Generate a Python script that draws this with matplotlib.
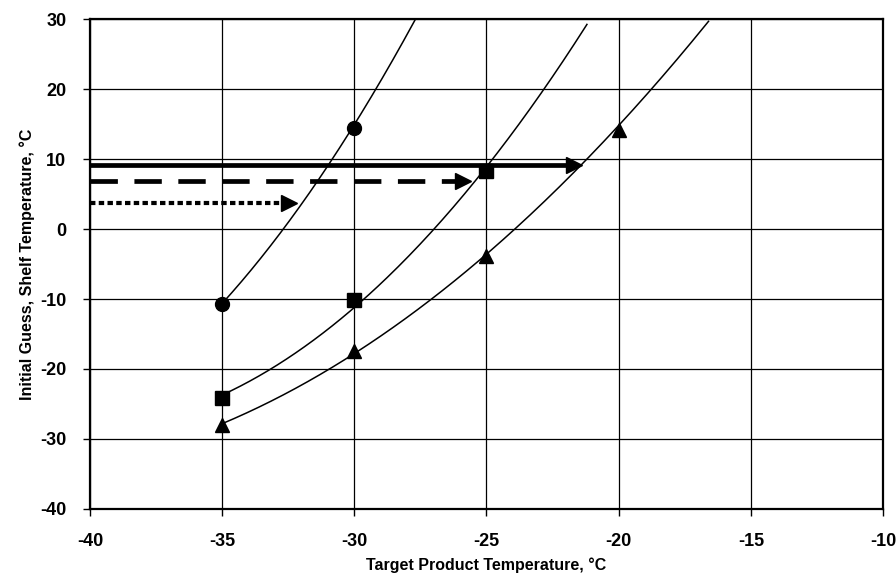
import matplotlib.pyplot as plt
import numpy as np

plt.rcParams['font.family'] = ['Liberation Sans', 'DejaVu Sans']
plt.rcParams['axes.unicode_minus'] = False

# marker data
x_circ = [-35, -30]
y_circ = [-10.7, 14.4]
x_sq = [-35, -30, -25]
y_sq = [-24.1, -10.2, 8.3]
x_tri = [-35, -30, -25, -20]
y_tri = [-28.0, -17.4, -3.8, 14.2]

# points on the trend curves (markers plus where each curve meets the top edge)
curve_circ_x = [-35, -32.7, -30.9, -30, -27.7]
curve_circ_y = [-10.7, 0, 10, 14.4, 30]
curve_sq_x = [-35, -30, -27.1, -25, -24.5, -21.2]
curve_sq_y = [-24.1, -10.2, 0, 8.3, 10, 30]
curve_tri_x = [-35, -30, -25, -24.0, -21.2, -20, -16.6]
curve_tri_y = [-28.0, -17.4, -3.8, 0, 10, 14.2, 30]

# horizontal arrows: level and tip position
arrow_y = [9.1, 6.8, 3.7]
arrow_tip = [-21.4, -25.6, -32.2]
arrow_style = ['solid', 'dashed', 'dotted']

fig = plt.figure(figsize=(8.96, 5.87), dpi=100)
ax = fig.add_axes([0.1004, 0.1329, 0.8851, 0.8347])

for cx, cy in [(curve_circ_x, curve_circ_y), (curve_sq_x, curve_sq_y),
               (curve_tri_x, curve_tri_y)]:
    p = np.polyfit(cx, cy, 2)
    xs = np.linspace(cx[0], cx[-1], 200)
    ax.plot(xs, np.polyval(p, xs), color='black', lw=1.1, zorder=3)

ax.plot(x_circ, y_circ, 'o', color='black', ms=10, zorder=4)
ax.plot(x_sq, y_sq, 's', color='black', ms=10, zorder=4)
ax.plot(x_tri, y_tri, '^', color='black', ms=10.5, zorder=4)

head = 0.55
for yv, tip, st in zip(arrow_y, arrow_tip, arrow_style):
    if st == 'solid':
        ax.plot([-40, tip - head], [yv, yv], color='black', lw=3.4,
                solid_capstyle='butt', zorder=3)
    elif st == 'dashed':
        ax.plot([-40, tip - head], [yv, yv], color='black', lw=3.4,
                dashes=[5.8, 3.5], dash_capstyle='butt', zorder=3)
    else:
        ax.plot([-40, tip - head], [yv, yv], color='black', lw=3.0,
                dashes=[1.3, 0.8], dash_capstyle='butt', zorder=3)
    ax.plot(tip - head / 2, yv, '>', color='black', ms=11, zorder=4)

ax.set_xlim(-40, -10)
ax.set_ylim(-40, 30)
ax.set_xticks(np.arange(-40, -9, 5))
ax.set_yticks(np.arange(-40, 31, 10))
ax.grid(True, color='black', lw=0.9)
ax.set_axisbelow(True)
for s in ax.spines.values():
    s.set_linewidth(1.6)
ax.tick_params(direction='out', length=5, width=1, labelsize=13, pad=12)
for lab in ax.get_xticklabels() + ax.get_yticklabels():
    lab.set_fontweight('bold')

ax.set_xlabel('Target Product Temperature, °C', fontsize=11.5,
              fontweight='bold', labelpad=6)
ax.set_ylabel('Initial Guess, Shelf Temperature, °C', fontsize=11.5,
              fontweight='bold', labelpad=4)

fig.savefig('out.png', dpi=100)
